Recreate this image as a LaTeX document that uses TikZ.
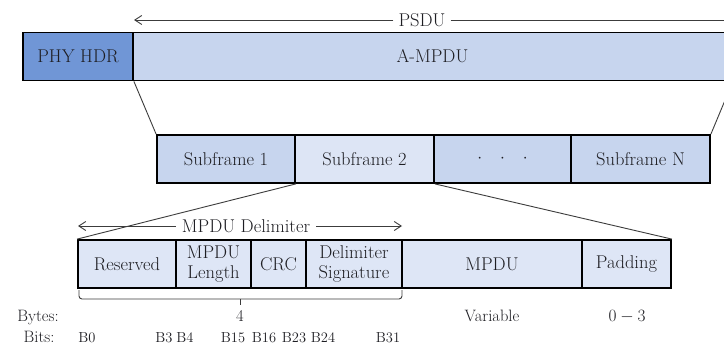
\documentclass[tikz,border=0pt]{standalone}
\usetikzlibrary{arrows.meta}
\definecolor{hdrblue}{RGB}{112,150,214}
\definecolor{midblue}{RGB}{199,213,238}
\definecolor{lightblue}{RGB}{221,229,245}
\definecolor{fieldblue}{RGB}{222,230,246}
\definecolor{txt}{RGB}{30,30,35}
\definecolor{conn}{RGB}{60,60,60}
\begin{document}
\begin{tikzpicture}[x=1pt,y=-1pt,
  fld/.style={draw=black,line width=1.8pt,rectangle,inner sep=0pt,minimum height=48pt,
     font=\fontsize{18.5}{20}\selectfont,text=txt,align=center},
  conline/.style={draw=conn,line width=0.9pt},
  lbl/.style={font=\fontsize{18.5}{20}\selectfont,text=txt,inner sep=1pt},
  small/.style={font=\fontsize{16.5}{18}\selectfont,text=txt,inner sep=0pt,anchor=base},
  bits/.style={font=\fontsize{14.5}{16}\selectfont,text=txt,inner sep=0pt,anchor=base},
  barb/.style={-{Straight Barb[length=7pt,width=9pt]}},
]
\useasboundingbox (0,0) rectangle (724,345);
\clip (0,0) rectangle (724,345);
\fill[white] (0,0) rectangle (724,345);

% top row
\node[fld,fill=hdrblue,minimum width=110pt] (phy) at (78,56.5) {PHY HDR};
\node[fld,fill=midblue,minimum width=599pt] (ampdu) at (432.5,56.5) {A-MPDU};

% PSDU arrow
\coordinate (psduL) at (134,20);
\coordinate (psduR) at (740,20);
\node[lbl,fill=white,inner xsep=5pt] (psdu) at (422,20) {PSDU};
\draw[conline,barb] (psdu.west) -- (psduL);
\draw[conline] (psdu.east) -- (psduR);

% subframes
\node[fld,fill=midblue,minimum width=138pt] (sub1) at (226,159) {Subframe 1};
\node[fld,fill=lightblue,minimum width=139pt] (sub2) at (364.5,159) {Subframe 2};
\node[fld,fill=midblue,minimum width=137pt] (dots) at (502.5,159) {$\cdot$\hspace{18pt}$\cdot$\hspace{18pt}$\cdot$};
\node[fld,fill=midblue,minimum width=139pt] (subN) at (640.5,159) {Subframe N};

% bottom row
\node[fld,fill=fieldblue,minimum width=98pt] (res) at (127,264) {Reserved};
\node[fld,fill=fieldblue,minimum width=75pt] (len) at (213.5,264) {MPDU\\Length};
\node[fld,fill=fieldblue,minimum width=55pt] (crc) at (278.5,264) {CRC};
\node[fld,fill=fieldblue,minimum width=96pt] (sig) at (354,264) {Delimiter\\Signature};
\node[fld,fill=fieldblue,minimum width=180pt] (mpdu) at (492,264) {MPDU};
\node[fld,fill=fieldblue,minimum width=89pt] (pad) at (626.5,264) {Padding};

% connectors
\draw[conline] (phy.south east) -- (sub1.north west);
\draw[conline] (ampdu.south east) -- (subN.north east);
\draw[conline] (sub1.south east) -- (res.north west);
\draw[conline] (sub2.south east) -- (pad.north east);

% MPDU delimiter arrow
\coordinate (delL) at (78,226);
\coordinate (delR) at (402,226);
\node[lbl,fill=white,inner xsep=6pt] (del) at (246,226) {MPDU Delimiter};
\draw[conline,barb] (del.west) -- (delL);
\draw[conline,barb] (del.east) -- (delR);

% brace
\coordinate (brL) at (79,290);
\coordinate (brR) at (402,290);
\coordinate (brM) at (240,299);
\coordinate (brT) at (240,305);
\draw[conline,rounded corners=3pt] (brL) |- (brM) -| (brR);
\draw[conline] (brM) -- (brT);

% labels
\node[small] (bytes) at (38,321) {Bytes:};
\node[small] (four) at (240,321) {4};
\node[small] (var) at (492,321) {Variable};
\node[small] (zt) at (627,321) {$0-3$};
\node[small] (bitsl) at (39,342) {Bits:};
\node[bits] (b0) at (87,342) {B0};
\node[bits] (b3) at (164,342) {B3};
\node[bits] (b4) at (185,342) {B4};
\node[bits] (b15) at (233,342) {B15};
\node[bits] (b16) at (264,342) {B16};
\node[bits] (b23) at (294,342) {B23};
\node[bits] (b24) at (323,342) {B24};
\node[bits] (b31) at (388,342) {B31};
\end{tikzpicture}
\end{document}
